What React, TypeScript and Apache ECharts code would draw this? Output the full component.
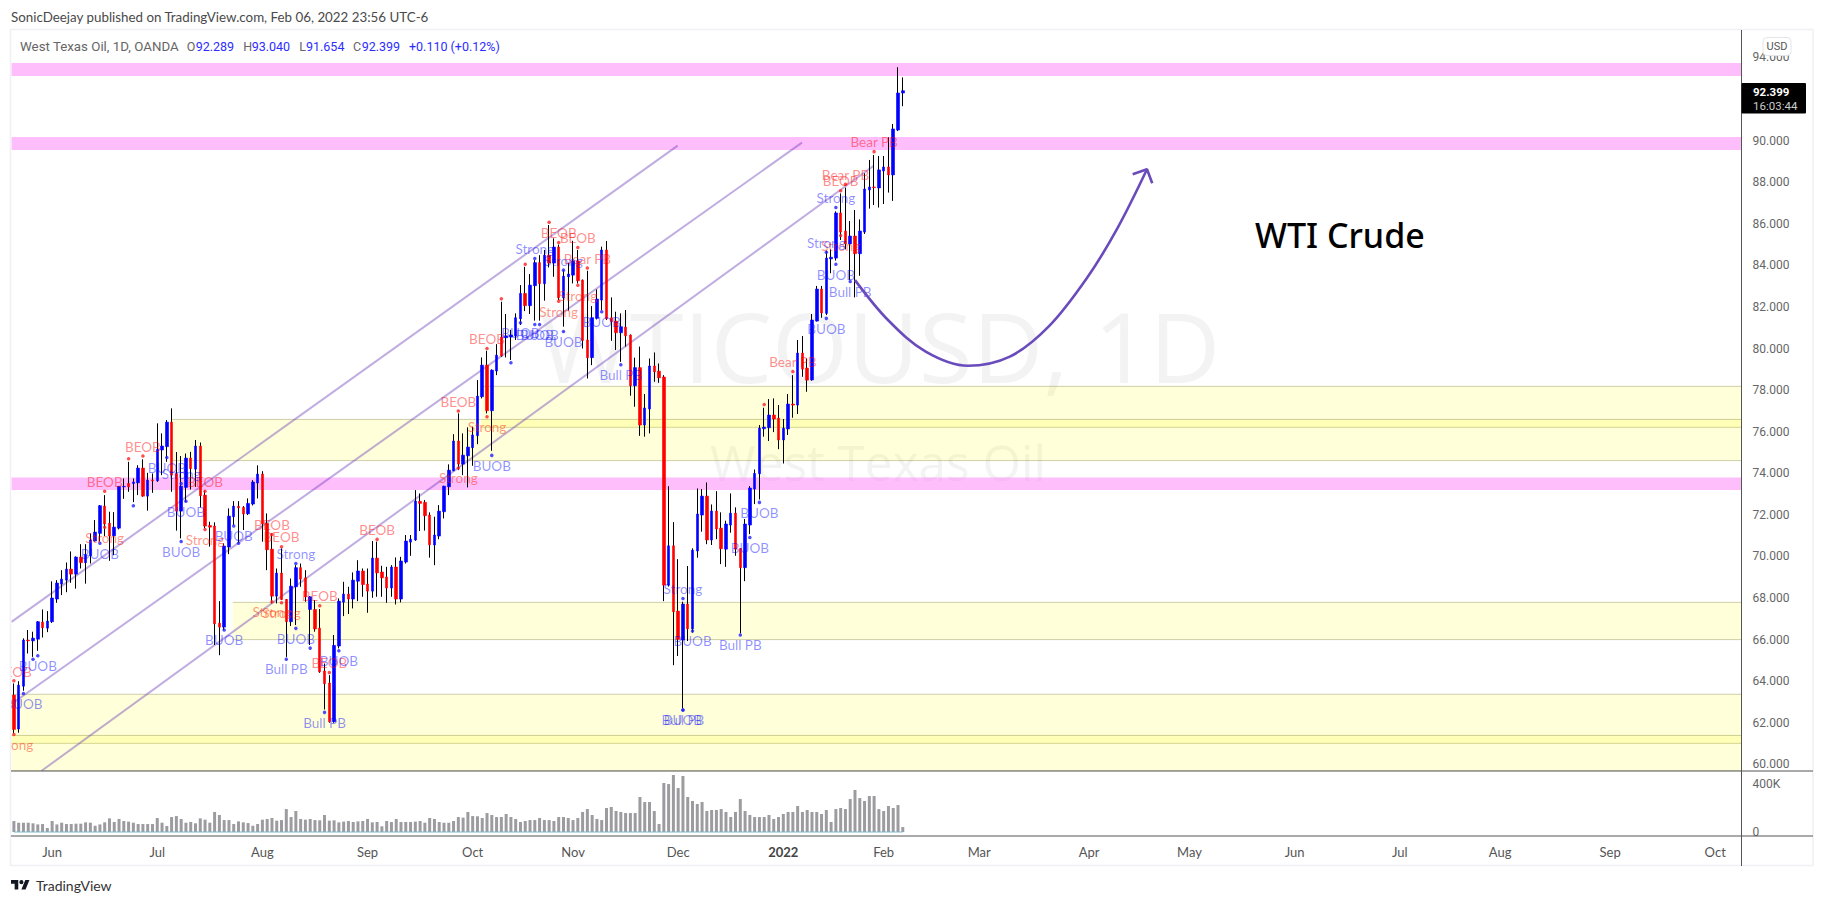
import React, { useEffect, useRef } from "react";
import * as echarts from "echarts";

// [open, close, low, high]
const barRows: number[][] = [
[63.33,61.68,61.49,63.89],[61.70,63.81,61.52,64.00],[63.76,65.98,63.54,66.06],[65.98,65.94,65.33,66.46],[65.94,66.07,65.17,66.38],
[66.02,66.86,65.46,66.89],[66.84,66.57,66.10,67.45],[66.55,66.89,66.36,67.37],[66.86,68.00,66.80,68.80],[67.95,68.72,67.77,68.86],
[68.67,68.91,68.14,69.34],[68.86,69.39,68.28,69.71],[69.39,69.15,68.73,70.24],[69.15,69.97,68.45,70.00],[69.97,69.70,69.42,70.59],
[69.70,70.08,68.69,70.59],[70.03,70.79,69.66,71.11],[70.74,71.17,70.71,71.75],[71.11,72.44,70.71,72.47],[72.42,71.56,70.98,72.95],
[71.60,70.98,69.79,72.15],[70.99,71.41,70.06,72.13],[71.36,73.37,71.30,73.38],[73.35,73.37,72.77,73.75],[73.51,73.35,73.11,74.55],
[73.51,73.58,72.61,73.75],[73.54,74.25,72.95,74.39],[74.25,72.90,72.87,74.67],[72.90,73.67,72.20,74.02],[73.67,73.64,73.06,73.99],
[73.64,75.15,73.59,76.40],[75.12,75.31,73.91,75.92],[75.28,76.46,74.55,76.56],[76.46,73.91,73.11,77.12],[73.98,72.18,71.24,75.02],
[72.18,73.38,70.87,74.83],[73.32,74.73,72.63,74.95],[74.73,74.22,73.22,75.03],[74.20,75.31,73.35,75.60],[75.31,72.92,72.36,75.48],
[72.95,71.46,71.35,73.19],[71.49,71.41,70.47,71.67],[71.46,66.76,65.74,71.64],[66.79,66.60,65.25,67.85],[66.60,70.50,66.46,70.63],
[70.45,71.94,70.11,72.31],[71.91,72.42,71.51,72.66],[72.41,72.34,70.66,72.66],[72.36,72.04,71.27,72.42],[72.05,72.55,71.99,72.79],
[72.52,73.58,72.45,73.67],[73.53,73.96,72.79,74.38],[73.96,71.57,70.71,74.10],[71.59,70.32,69.34,72.07],[70.35,68.09,67.74,71.11],
[68.09,69.20,67.74,69.42],[69.20,67.93,67.90,70.39],[67.93,66.86,65.17,67.95],[66.86,68.57,66.65,68.94],[68.54,69.46,66.70,69.58],
[69.46,68.91,68.54,69.66],[68.97,68.06,67.82,69.34],[67.45,68.06,65.74,68.09],[67.45,66.51,66.38,67.90],[66.55,64.45,64.40,67.47],
[64.49,63.88,62.64,64.85],[63.91,62.05,62.00,64.29],[62.05,65.72,62.00,66.22],[65.69,67.85,65.58,67.98],[67.80,68.19,67.13,68.78],
[68.19,67.95,67.23,68.54],[67.95,68.86,67.50,69.23],[68.81,69.30,67.85,69.82],[69.30,68.65,68.06,69.42],[68.67,68.33,67.29,69.42],
[68.33,69.92,68.01,70.74],[69.92,69.21,68.06,70.71],[69.25,68.97,68.06,69.55],[69.01,68.48,67.77,69.50],[68.48,69.49,68.06,69.58],
[69.49,67.95,67.69,69.95],[67.95,69.78,67.79,69.98],[69.73,70.74,69.66,71.03],[70.69,70.83,70.03,71.03],[70.79,72.66,70.75,73.19],
[72.65,72.55,71.22,73.03],[72.60,71.96,71.24,72.71],[71.99,70.56,69.94,72.12],[70.55,71.03,69.58,71.91],[70.98,72.18,70.83,72.47],
[72.15,73.38,71.83,73.40],[73.35,74.15,72.95,74.43],[74.12,75.55,74.10,75.88],[75.55,74.44,74.15,76.88],[74.44,74.87,73.91,75.92],
[74.84,75.26,73.32,76.21],[75.23,75.84,74.36,76.24],[75.81,77.71,75.40,78.48],[77.68,79.20,77.60,79.57],[79.20,77.01,76.88,79.89],
[77.01,78.96,75.08,79.00],[78.92,79.68,78.72,80.21],[80.55,79.65,79.60,82.25],[80.52,80.61,79.57,81.66],[80.55,80.65,79.45,80.90],
[80.60,81.48,80.41,81.69],[81.43,82.65,81.13,83.05],[82.65,82.06,81.80,83.93],[82.06,83.05,81.66,83.58],[83.02,84.13,81.34,84.25],
[84.13,83.12,81.34,84.49],[83.12,84.49,82.30,84.74],[84.49,84.11,83.90,85.94],[84.11,84.88,83.45,85.30],[84.88,82.44,82.33,85.00],
[82.44,83.48,81.05,83.77],[83.45,83.58,81.82,84.13],[83.53,84.21,83.13,85.18],[84.21,83.26,83.13,84.74],[83.29,80.39,80.00,83.32],
[80.41,79.56,78.56,83.74],[79.56,81.48,79.20,82.04],[81.45,82.38,81.40,82.84],[82.33,84.74,81.85,84.90],[84.74,81.43,81.37,85.17],
[81.48,81.29,80.37,82.46],[81.32,80.76,79.93,81.77],[80.76,81.05,79.36,81.69],[81.03,80.61,80.09,81.85],[80.65,78.21,77.73,80.68],
[78.21,79.08,77.20,79.56],[79.08,76.32,75.80,80.09],[76.32,77.14,75.76,77.81],[77.09,79.16,75.92,79.52],[79.16,78.88,78.40,79.81],
[78.91,78.59,78.35,79.28],[78.63,68.62,67.85,78.72],[68.62,70.51,68.55,73.38],[70.51,67.34,64.77,71.65],[67.37,66.01,65.21,69.87],
[65.98,67.71,62.69,67.82],[67.71,66.52,65.93,69.54],[66.52,70.30,66.33,70.39],[70.26,72.04,69.94,73.27],[71.99,72.90,71.19,73.24],
[72.90,70.79,70.59,73.56],[70.79,72.18,70.55,72.50],[72.18,71.32,70.83,73.14],[71.36,70.37,69.63,72.12],[70.35,71.56,69.50,71.72],
[71.51,72.08,71.14,73.03],[72.08,70.35,70.03,72.36],[70.38,69.46,66.30,70.40],[69.46,71.56,68.81,71.80],[71.51,73.29,71.07,73.38],
[73.24,73.99,72.52,74.18],[73.98,76.17,72.74,76.32],[76.14,76.22,75.76,77.15],[76.19,76.80,75.55,77.57],[76.80,76.61,75.98,77.60],
[76.65,75.60,75.16,77.28],[75.60,76.17,74.47,76.61],[76.13,77.33,75.84,77.81],[77.33,77.28,76.67,78.72],[77.28,79.78,76.85,80.41],
[79.78,79.01,78.64,80.60],[79.06,78.48,77.92,79.52],[78.49,81.37,78.45,81.66],[81.32,82.86,81.30,83.01],[82.86,81.71,81.48,83.01],
[81.69,84.35,81.61,84.71],[84.31,84.39,83.62,84.77],[84.35,86.52,84.23,86.60],[86.52,85.60,85.22,87.46],[85.65,85.03,84.77,87.74],
[85.03,85.41,83.30,86.13],[85.41,84.56,82.46,86.66],[84.56,85.65,83.50,86.21],[85.60,87.67,85.51,88.43],[87.63,87.77,86.73,89.07],
[87.77,87.74,86.90,89.31],[87.72,88.59,86.78,89.26],[88.54,88.73,86.95,89.26],[88.73,88.35,87.50,90.16],[88.35,90.56,87.10,90.80],
[90.51,92.29,90.46,93.53],[92.289,92.399,91.654,93.04],
];

const volumesK: number[] = [
91,77,77,77,72,63,66,33,91,63,77,66,66,69,69,80,77,52,63,80,113,83,108,91,86,77,66,66,66,66,
116,77,50,124,132,108,77,83,72,113,102,77,166,141,99,99,66,88,80,74,52,66,102,108,116,94,99,190,124,174,
108,102,108,99,97,141,94,97,80,86,91,83,88,91,108,80,83,47,91,83,108,83,83,83,86,91,77,116,108,83,
77,77,91,124,119,166,132,130,116,157,141,124,124,149,124,108,83,91,99,99,116,99,99,91,124,124,116,99,116,166,
190,141,108,99,199,207,174,166,157,157,157,290,248,248,174,66,406,397,472,364,464,290,257,232,248,174,182,182,190,166,
124,166,273,174,141,124,124,124,141,108,124,149,166,166,215,166,182,166,166,149,182,83,190,199,190,273,348,281,257,298,
298,190,174,215,199,223,41,
];

const monthTicks: [number, string][] = [
[8,"Jun"],[30,"Jul"],[52,"Aug"],[74,"Sep"],[96,"Oct"],[117,"Nov"],[139,"Dec"],[161,"2022"],[182,"Feb"],
[202,"Mar"],[225,"Apr"],[246,"May"],[268,"Jun"],[290,"Jul"],[311,"Aug"],[334,"Sep"],[356,"Oct"],
];
const BAND_COUNT = 362;
const priceTicks = [60,62,64,66,68,70,72,74,76,78,80,82,84,86,88,90,92,94];

// zones: [fromBar, toBar, priceA, priceB]
const pinkZones = [[-0.5,361.5,93.73,93.11],[-0.5,361.5,90.17,89.55],[-0.5,361.5,73.80,73.20]];
const yellowZones = [
[97.9,361.5,78.18,76.21],[33.1,361.5,76.59,74.61],[45.8,361.5,67.79,66.00],
[-0.5,361.5,63.37,61.01],[-0.5,361.5,61.39,59.68],
];
const channelA = [[-0.5,66.85],[138.9,89.76]];
const channelB = [[-0.5,62.90],[164.9,89.90]];
const channelC = [[5.8,59.69],[179.9,88.79]];
const arrowCurve = [[176.0,83.29],[182.9,81.37],[190.8,79.85],[199.6,79.17],[208.4,79.61],[216.5,81.05],[224.5,83.38],[230.9,85.78],[237.1,88.62]];
const arrowHead = [[234.1,88.38],[237.1,88.62],[238.2,87.95]];

// [bar, price, text]
const redAbove: (number|string)[][] = [
[0,64.02,"BEOB"],[19,73.14,"BEOB"],[24,74.70,""],[27,74.83,"BEOB"],[40,73.14,"BEOB"],[54,71.06,"BEOB"],[56,70.47,"BEOB"],
[64,67.63,"BEOB"],[66,64.42,"BEOB"],[76,70.82,"BEOB"],[93,76.99,"BEOB"],[99,80.0,"BEOB"],[102,82.39,""],[107,84.05,""],
[112,86.07,""],[114,85.10,"BEOB"],[118,84.86,"BEOB"],[120,83.87,"Bear PB"],[157,77.31,""],[163,78.89,"Bear PB"],
[173,87.59,"BEOB"],[174,87.90,"Bear PB"],[180,89.47,"Bear PB"],
];
const redBelow: (number|string)[][] = [
[0,61.44,"Strong"],[19,71.40,"Strong"],[40,71.30,"Strong"],[54,67.82,"Strong"],[56,67.77,"Strong"],[93,74.25,"Strong"],
[99,76.72,"Strong"],[114,82.27,"Strong"],[118,83.04,"Strong"],[173,85.44,"Strong"],
];
const blueAbove: (number|string)[][] = [
[35,73.51,"Strong"],[59,69.66,"Strong"],[109,84.33,"Strong"],[115,83.77,"Strong"],[140,67.98,"Strong"],[170,84.63,"Strong"],[172,86.78,"Strong"],
];
const blueBelow: (number|string)[][] = [
[2,63.41,"BUOB"],[4,65.05,""],[5,65.22,"BUOB"],[18,70.63,"BUOB"],[25,72.44,""],[32,74.76,"BUOB"],[35,70.72,"BUOB"],[36,72.65,"BUOB"],
[44,66.46,"BUOB"],[46,71.46,"BUOB"],[47,70.63,""],[57,65.06,"Bull PB"],[59,66.54,"BUOB"],[62,65.59,""],[65,62.50,"Bull PB"],[68,65.46,"BUOB"],
[100,74.86,"BUOB"],[104,79.32,""],[106,81.24,"BUOB"],[109,81.16,"BUOB"],[110,81.16,"BUOB"],[115,80.82,"BUOB"],[123,81.77,"BUOB"],[127,79.22,"Bull PB"],
[140,62.61,"BUOB"],[140,62.61,"Bull PB"],[142,66.41,"BUOB"],[152,66.22,"Bull PB"],[154,70.91,"BUOB"],[156,72.60,"BUOB"],
[170,81.45,"BUOB"],[172,84.05,"BUOB"],[175,83.22,"Bull PB"],
];

const titleText = "SonicDeejay published on TradingView.com, Feb 06, 2022 23:56 UTC-6";
const symbolText = "West Texas Oil, 1D, OANDA";

const TV_LOGO = "M14 22H7V11H0V4h14v18zM28 22h-8l7.5-18h8L28 22zM20 4a4 4 0 1 0 0 8a4 4 0 1 0 0-8z";
echarts.graphic.registerShape("tvmark", echarts.graphic.extendPath(TV_LOGO, {}) as any);

const LABEL_FONT = "Lato";
const TICK_FONT = "Roboto";

function signalSeries(data: (number|string)[][], color: string, textColor: string, pos: "top"|"bottom") {
  return {
    type: "scatter", xAxisIndex: 2, yAxisIndex: 0, z: 8, symbolSize: 3.5, silent: true,
    itemStyle: { color }, data,
    label: {
      show: true, position: pos, distance: pos === "top" ? 0.5 : 1.5, color: textColor, fontSize: 13.5, fontFamily: LABEL_FONT,
      formatter: (p: any) => p.data[2],
    },
    labelLayout: { hideOverlap: false },
  };
}
function lineSeries(data: number[][], color: string, width: number, z: number, smooth: number | boolean = false) {
  return {
    type: "line", xAxisIndex: 2, yAxisIndex: 0, data, z, smooth, showSymbol: false, symbol: "none", silent: true,
    lineStyle: { color, width },
  };
}
function zoneSeries(data: number[][], fill: string, stroke: string | undefined, z: number) {
  return {
    type: "custom", xAxisIndex: 2, yAxisIndex: 0, z, silent: true, data, clip: true,
    encode: { x: [0, 1], y: [2, 3] },
    renderItem: (_: any, api: any) => {
      const a = api.coord([api.value(0), api.value(2)]);
      const b = api.coord([api.value(1), api.value(3)]);
      const children: any[] = [{
        type: "rect",
        shape: { x: a[0], y: a[1], width: b[0] - a[0], height: b[1] - a[1] },
        style: { fill },
      }];
      if (stroke) {
        for (const y of [a[1], b[1]]) {
          children.push({ type: "line", shape: { x1: a[0], y1: y, x2: b[0], y2: y }, style: { stroke, lineWidth: 1 } });
        }
      }
      return { type: "group", children };
    },
  };
}
const headerText = (x: number, text: string, fill: string, size = 12.5) => ({
  type: "text", x, y: 46.5, z: 60,
  style: { text, fill, font: `${size}px ${TICK_FONT}`, verticalAlign: "middle" },
});

export default function App() {
  const ref = useRef<HTMLDivElement>(null);
  useEffect(() => {
    document.body.style.margin = "0";
    document.body.style.background = "#fff";
    const chart = echarts.init(ref.current!, undefined, { renderer: "svg" });
    const tickMap = new Map(monthTicks);
    const cats = Array.from({ length: BAND_COUNT }, (_, i) => String(i));
    const baseLine = barRows.map((_, i) => [i, 0]);
    chart.setOption({
      animation: false,
      backgroundColor: "#fff",
      grid: [
        { left: 11.5, top: 30, width: 1730, height: 741 },
        { left: 11.5, top: 771, width: 1730, height: 65 },
      ],
      xAxis: [
        { type: "category", gridIndex: 0, data: cats, show: false },
        {
          type: "category", gridIndex: 1, data: cats,
          axisLine: { show: false }, axisTick: { show: false }, splitLine: { show: false },
          axisLabel: {
            interval: (i: number) => tickMap.has(i), margin: 9, hideOverlap: false,
            fontFamily: LABEL_FONT, fontSize: 13,
            formatter: (_: string, i: number) => {
              const t = tickMap.get(i) || "";
              return t === "2022" ? `{b|${t}}` : `{n|${t}}`;
            },
            rich: {
              b: { fontFamily: LABEL_FONT, fontSize: 13, fontWeight: 700, color: "#444" },
              n: { fontFamily: LABEL_FONT, fontSize: 13, color: "#555" },
            },
          },
        },
        { type: "value", gridIndex: 0, min: -0.5, max: 361.5, show: false },
      ],
      yAxis: [
        {
          type: "value", gridIndex: 0, position: "right", min: 59.68, max: 95.32, scale: true,
          axisLine: { show: false }, axisTick: { show: false }, splitLine: { show: false },
          axisLabel: {
            customValues: priceTicks, margin: 11, fontFamily: TICK_FONT, fontSize: 12, color: "#666",
            formatter: (v: number) => v.toFixed(3),
          },
        },
        {
          type: "value", gridIndex: 1, position: "right", min: -33000, max: 505000,
          axisLine: { show: false }, axisTick: { show: false }, splitLine: { show: false },
          axisLabel: {
            customValues: [0, 400000], margin: 11, fontFamily: TICK_FONT, fontSize: 12, color: "#666",
            formatter: (v: number) => (v === 0 ? "0" : `${v / 1000}K`),
          },
        },
      ],
      series: [
        zoneSeries(yellowZones, "rgba(255,255,0,0.15)", "rgba(130,130,60,0.38)", 1),
        zoneSeries(pinkZones, "rgba(251,125,247,0.5)", undefined, 1),
        lineSeries(channelA, "rgba(103,58,183,0.42)", 2, 3),
        lineSeries(channelB, "rgba(103,58,183,0.42)", 2, 3),
        lineSeries(channelC, "rgba(103,58,183,0.42)", 2, 3),
        {
          type: "candlestick", xAxisIndex: 0, yAxisIndex: 0, z: 4, barWidth: 1, silent: true,
          data: barRows,
          itemStyle: { color: "#000", color0: "#000", borderColor: "#000", borderColor0: "#000", borderWidth: 1 },
        },
        {
          type: "candlestick", xAxisIndex: 0, yAxisIndex: 0, z: 5, barWidth: 3, silent: true,
          data: barRows.map(([o, c]) => [o, c, Math.min(o, c), Math.max(o, c)]),
          itemStyle: { color: "#0000ff", color0: "#ff0000", borderColor: "#0000ff", borderColor0: "#ff0000", borderWidth: 0.6 },
        },
        signalSeries(redAbove, "#ff2020", "rgba(255,0,0,0.58)", "top"),
        signalSeries(redBelow, "#ff2020", "rgba(255,30,0,0.6)", "bottom"),
        signalSeries(blueAbove, "#2020ff", "rgba(0,0,255,0.55)", "top"),
        signalSeries(blueBelow, "#2020ff", "rgba(0,0,255,0.55)", "bottom"),
        lineSeries(arrowCurve, "#6a4bbb", 2.6, 9, 0.35),
        lineSeries(arrowHead, "#6a4bbb", 2.6, 9),
        {
          type: "bar", xAxisIndex: 1, yAxisIndex: 1, barWidth: 3, silent: true, z: 2,
          data: volumesK.map((v) => v * 1000),
          itemStyle: { color: "#9c9ca0" },
        },
        {
          type: "line", xAxisIndex: 1, yAxisIndex: 1, z: 3, showSymbol: false, symbol: "none", silent: true,
          data: baseLine, lineStyle: { color: "#79b8d4", width: 1 },
        },
      ],
      graphic: [
        { type: "text", x: 880, y: 345, z: 0, silent: true, style: { text: "WTICOUSD, 1D", fill: "#f3f3f3", font: '97.5px "Open Sans"', align: "center", verticalAlign: "middle" } },
        { type: "text", x: 878, y: 462, z: 0, silent: true, style: { text: "West Texas Oil", fill: "#f3f3f3", font: '49.5px "Open Sans"', align: "center", verticalAlign: "middle" } },

        { type: "rect", z: 50, shape: { x: 0, y: 30, width: 10.5, height: 840 }, style: { fill: "#fff" } },
        { type: "rect", z: 51, shape: { x: 10.5, y: 29.5, width: 1802.5, height: 836 }, style: { fill: "none", stroke: "#f0f0f6", lineWidth: 1.6 } },
        { type: "line", z: 52, shape: { x1: 11, y1: 771, x2: 1813, y2: 771 }, style: { stroke: "#555", lineWidth: 1 } },
        { type: "line", z: 52, shape: { x1: 11, y1: 836, x2: 1813, y2: 836 }, style: { stroke: "#555", lineWidth: 1 } },
        { type: "line", z: 52, shape: { x1: 1741.5, y1: 30, x2: 1741.5, y2: 866 }, style: { stroke: "#555", lineWidth: 1 } },

        { type: "text", x: 11, y: 16.5, z: 60, style: { text: titleText, fill: "#4a4a4a", font: `13.35px ${LABEL_FONT}`, verticalAlign: "middle" } },
        headerText(20, symbolText, "#666", 13.3),
        headerText(186.7, "O", "#666"), headerText(195.7, "92.289", "#2d2dff"),
        headerText(243.3, "H", "#666"), headerText(251.7, "93.040", "#2d2dff"),
        headerText(299.3, "L", "#666"), headerText(306, "91.654", "#2d2dff"),
        headerText(353, "C", "#666"), headerText(361.7, "92.399", "#2d2dff"),
        headerText(409, "+0.110 (+0.12%)", "#2d2dff"),

        { type: "text", x: 1254.9, y: 235, z: 60, style: { text: "WTI Crude", fill: "#000", font: '500 34px "Noto Sans"', verticalAlign: "middle" } },

        { type: "rect", z: 60, shape: { x: 1763, y: 37.5, width: 28, height: 18, r: 4 }, style: { fill: "#fff", stroke: "#e4e4ea", lineWidth: 1 } },
        { type: "text", x: 1777, y: 46.5, z: 61, style: { text: "USD", fill: "#555", font: `11px ${TICK_FONT}`, align: "center", verticalAlign: "middle" } },
        { type: "rect", z: 60, shape: { x: 1741.5, y: 83, width: 64.5, height: 30.5, r: 1 }, style: { fill: "#000" } },
        { type: "text", x: 1753, y: 91.5, z: 61, style: { text: "92.399", fill: "#fff", font: `700 11.5px ${TICK_FONT}`, verticalAlign: "middle" } },
        { type: "text", x: 1753, y: 105.5, z: 61, style: { text: "16:03:44", fill: "#ccc", font: `11.5px ${TICK_FONT}`, verticalAlign: "middle" } },

        { type: "tvmark", x: 11, y: 878, z: 60, scaleX: 0.52, scaleY: 0.52, style: { fill: "#131722" } },
        { type: "text", x: 36, y: 885, z: 60, style: { text: "TradingView", fill: "#333", font: `14px ${LABEL_FONT}`, verticalAlign: "middle" } },
      ],
    } as any);
    return () => chart.dispose();
  }, []);
  return <div ref={ref} style={{ position: "fixed", left: 0, top: 0, width: 1824, height: 905 }} />;
}
